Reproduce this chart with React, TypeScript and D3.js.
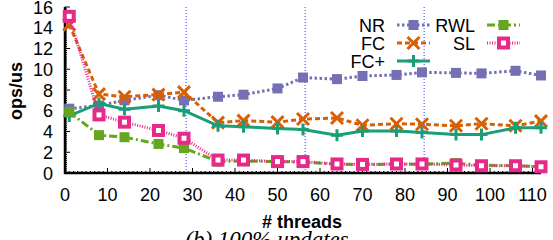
import React from "react";
import * as d3 from "d3";

const threads = [1, 8, 14, 22, 28, 36, 42, 50, 56, 64, 70, 78, 84, 92, 98, 106, 112];
const nrValues = [6.2, 6.5, 7.0, 7.5, 7.0, 7.35, 7.55, 8.15, 9.2, 9.05, 9.35, 9.45, 9.7, 9.65, 9.6, 9.85, 9.4];
const fcValues = [14.3, 7.6, 7.35, 7.55, 7.8, 4.85, 5.05, 4.9, 5.2, 5.3, 4.6, 4.75, 4.7, 4.55, 4.75, 4.55, 5.0];
const fcPlusValues = [5.5, 6.7, 6.15, 6.45, 6.0, 4.55, 4.45, 4.3, 4.2, 3.65, 4.05, 4.05, 3.9, 3.7, 3.7, 4.35, 4.35];
const rwlValues = [5.9, 3.65, 3.45, 2.8, 2.4, 1.1, 1.15, 1.1, 1.05, 0.85, 0.8, 0.85, 0.85, 0.95, 0.75, 0.7, 0.6];
const slValues = [15.1, 5.6, 4.9, 4.1, 3.35, 1.25, 1.25, 1.1, 1.1, 0.87, 0.83, 0.87, 0.87, 0.77, 0.7, 0.7, 0.6];
const socketBoundaries = [28.5, 56.5, 84.5];
const xTicks = [0, 10, 20, 30, 40, 50, 60, 70, 80, 90, 100, 110];
const yTicks = [0, 2, 4, 6, 8, 10, 12, 14, 16];

type Marker = "square" | "cross" | "plus" | "box";

const series: { name: string; values: number[]; color: string; dash: string; marker: Marker }[] = [
  { name: "NR", values: nrValues, color: "#7570b3", dash: "2.5,2.5", marker: "square" },
  { name: "FC", values: fcValues, color: "#d95f02", dash: "5,3", marker: "cross" },
  { name: "FC+", values: fcPlusValues, color: "#1b9e77", dash: "", marker: "plus" },
  { name: "RWL", values: rwlValues, color: "#66a61e", dash: "8,3,2,3", marker: "square" },
  { name: "SL", values: slValues, color: "#e7298a", dash: "1,1.5", marker: "box" },
];

const W = 553;
const H = 240;
const font = "'Liberation Sans', Arial, Helvetica, sans-serif";

function drawMarker(m: Marker, color: string, x: number, y: number, key: string) {
  if (m === "square") {
    return <rect key={key} x={x - 5} y={y - 5} width={10} height={10} fill={color} />;
  }
  if (m === "cross") {
    const s = 6;
    return (
      <path key={key} d={`M${x - s},${y - s}L${x + s},${y + s}M${x - s},${y + s}L${x + s},${y - s}`}
        stroke={color} strokeWidth={3} fill="none" />
    );
  }
  if (m === "plus") {
    const s = 6;
    return (
      <path key={key} d={`M${x - s},${y}L${x + s},${y}M${x},${y - s}L${x},${y + s}`}
        stroke={color} strokeWidth={3} fill="none" />
    );
  }
  // open box: thick border, small white centre
  return (
    <rect key={key} x={x - 4.5} y={y - 4.5} width={9} height={9} fill="#fff" stroke={color} strokeWidth={4} />
  );
}

export default function App() {
  const x = d3.scaleLinear().domain([0, 112]).range([65, 541]);
  const y = d3.scaleLinear().domain([0, 16]).range([173, 7]);

  const line = d3
    .line<number>()
    .x((_, i) => x(threads[i]))
    .y((d) => y(d));

  const minorX = d3.range(0, 113, 1);
  const minorY = d3.range(0, 16.01, 0.2);

  const legend = [
    { s: series[0], tx: 385, ty: 25 },
    { s: series[1], tx: 385, ty: 43 },
    { s: series[2], tx: 385, ty: 61 },
    { s: series[3], tx: 475, ty: 25 },
    { s: series[4], tx: 475, ty: 43 },
  ];

  return (
    <svg width={W} height={H} style={{ position: "absolute", left: 0, top: 0, background: "#fff" }}>
      {/* socket boundaries */}
      {socketBoundaries.map((b) => (
        <line key={b} x1={x(b)} x2={x(b)} y1={y(16)} y2={y(0)} stroke="#3030ff" strokeWidth={1} strokeDasharray="1,2" />
      ))}

      {/* axes */}
      <g stroke="#000">
        {minorX.map((t) => (
          <line key={"mx" + t} x1={x(t)} x2={x(t)} y1={y(0)} y2={y(0) - (t % 10 === 0 ? 5 : 2)} strokeWidth={1} />
        ))}
        {minorY.map((t, i) => (
          <line key={"my" + i} x1={x(0)} x2={x(0) + (i % 10 === 0 ? 5 : 2)} y1={y(t)} y2={y(t)} strokeWidth={1} />
        ))}
        <line x1={x(0)} x2={x(0)} y1={y(16)} y2={y(0) + 1} strokeWidth={2.5} />
        <line x1={x(0) - 1} x2={x(112)} y1={y(0)} y2={y(0)} strokeWidth={2.5} />
      </g>
      <g fontFamily={font} fontSize={18} fill="#000">
        {xTicks.map((t) => (
          <text key={"xt" + t} x={x(t)} y={201} textAnchor="middle">{t}</text>
        ))}
        {yTicks.map((t) => (
          <text key={"yt" + t} x={53} y={y(t) + 6.5} textAnchor="end">{t}</text>
        ))}
      </g>
      <text x={302} y={228} textAnchor="middle" fontFamily={font} fontSize={18} fontWeight="bold"># threads</text>
      <text transform="translate(22,91) rotate(-90)" textAnchor="middle" fontFamily={font} fontSize={18} fontWeight="bold">ops/us</text>
      <text x={267} y={247} textAnchor="middle" fontFamily="'Liberation Serif', 'DejaVu Serif', serif" fontStyle="italic" fontSize={23}>(b) 100% updates</text>

      {/* series */}
      {series.map((s) => (
        <g key={s.name}>
          <path d={line(s.values) || ""} fill="none" stroke={s.color} strokeWidth={3} strokeDasharray={s.dash || undefined} />
          {s.values.map((v, i) => drawMarker(s.marker, s.color, x(threads[i]), y(v), s.name + i))}
        </g>
      ))}

      {/* legend */}
      {legend.map(({ s, tx, ty }) => (
        <g key={"lg" + s.name}>
          <text x={tx} y={ty + 6.5} textAnchor="end" fontFamily={font} fontSize={18}>{s.name}</text>
          <line x1={tx + 12} x2={tx + 45} y1={ty} y2={ty} stroke={s.color} strokeWidth={3} strokeDasharray={s.dash || undefined} />
          {drawMarker(s.marker, s.color, tx + 28.5, ty, "lm" + s.name)}
        </g>
      ))}
    </svg>
  );
}
